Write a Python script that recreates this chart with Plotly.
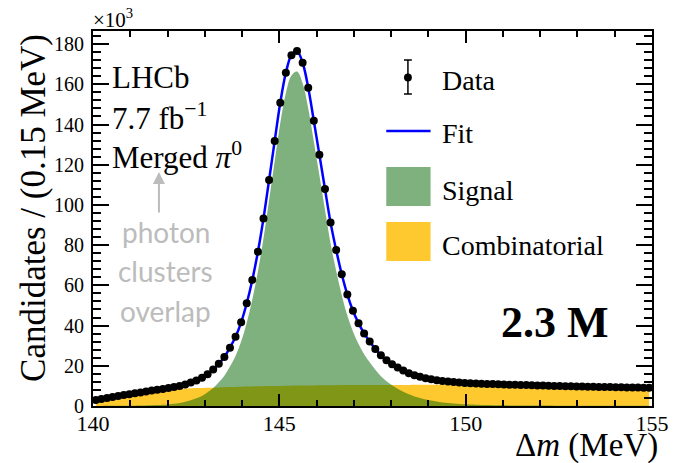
import plotly.graph_objects as go

# ---- data (values in units of 10^3 candidates per 0.15 MeV) ----
bin_low = 140.0
bin_width = 0.15
n_bins = 100
dm_centers = [round(bin_low + bin_width * (i + 0.5), 4) for i in range(n_bins)]

data_counts = [
    2.95, 3.46, 3.97, 4.48, 4.95, 5.42, 5.9, 6.33, 6.77, 7.23,
    7.65, 8.05, 8.5, 8.95, 9.45, 10.0, 10.75, 11.7, 12.7, 14.0,
    15.85, 18.1, 21.0, 24.4, 29.0, 34.4, 41.6, 51.1, 62.7, 76.7,
    93.3, 112.4, 131.8, 150.8, 165.7, 174.5, 176.5, 170.7, 158.3, 141.9,
    125.0, 107.9, 91.2, 77.6, 65.5, 55.4, 47.4, 41.2, 36.1, 32.1,
    28.4, 25.2, 22.8, 20.8, 19.1, 17.6, 16.3, 15.3, 14.5, 13.85,
    13.3, 12.85, 12.45, 12.15, 11.9, 11.7, 11.5, 11.35, 11.2, 11.1,
    11.0, 10.9, 10.8, 10.7, 10.62, 10.55, 10.48, 10.4, 10.32, 10.24,
    10.16, 10.08, 10.0, 9.93, 9.86, 9.8, 9.74, 9.68, 9.62, 9.56,
    9.5, 9.45, 9.4, 9.35, 9.3, 9.25, 9.2, 9.15, 9.1, 9.05,
]

signal = [
    0.05, 0.06, 0.07, 0.08, 0.1, 0.12, 0.15, 0.18, 0.22, 0.28,
    0.35, 0.45, 0.6, 0.8, 1.1, 1.5, 2.1, 2.9, 3.8, 5.0,
    6.8, 9.0, 11.8, 15.1, 19.6, 24.9, 32.05, 41.45, 53.0, 66.9,
    83.45, 102.5, 121.85, 140.8, 155.65, 164.4, 166.35, 160.5, 148.1, 131.65,
    114.7, 97.6, 80.85, 67.25, 55.1, 45.0, 37.0, 30.8, 25.7, 21.7,
    18.0, 14.8, 12.35, 10.35, 8.6, 7.1, 5.8, 4.75, 3.95, 3.25,
    2.7, 2.25, 1.8, 1.5, 1.25, 1.05, 0.85, 0.7, 0.6, 0.5,
    0.45, 0.4, 0.35, 0.32, 0.3, 0.28, 0.26, 0.24, 0.22, 0.21,
    0.2, 0.19, 0.18, 0.17, 0.16, 0.15, 0.14, 0.13, 0.12, 0.11,
    0.1, 0.1, 0.1, 0.09, 0.09, 0.08, 0.08, 0.07, 0.07, 0.07,
]

combinatorial = [
    2.9, 3.4, 3.9, 4.4, 4.85, 5.3, 5.75, 6.15, 6.55, 6.95,
    7.3, 7.6, 7.9, 8.15, 8.35, 8.5, 8.65, 8.8, 8.9, 9.0,
    9.05, 9.1, 9.2, 9.3, 9.4, 9.5, 9.55, 9.65, 9.7, 9.8,
    9.85, 9.9, 9.95, 10.0, 10.05, 10.1, 10.15, 10.2, 10.2, 10.25,
    10.3, 10.3, 10.35, 10.35, 10.4, 10.4, 10.4, 10.4, 10.4, 10.4,
    10.4, 10.4, 10.45, 10.45, 10.5, 10.5, 10.5, 10.55, 10.55, 10.6,
    10.6, 10.6, 10.65, 10.65, 10.65, 10.65, 10.65, 10.65, 10.6, 10.6,
    10.55, 10.5, 10.45, 10.38, 10.32, 10.27, 10.22, 10.16, 10.1, 10.03,
    9.96, 9.89, 9.82, 9.76, 9.7, 9.65, 9.6, 9.55, 9.5, 9.45,
    9.4, 9.35, 9.3, 9.26, 9.21, 9.17, 9.12, 9.08, 9.03, 8.98,
]

fit_total = [s + c for s, c in zip(signal, combinatorial)]

x_tickvals = [140, 145, 150, 155]
y_tickvals = [0, 20, 40, 60, 80, 100, 120, 140, 160, 180]

SERIF = "Liberation Serif"
COMB_COLOR = "rgb(254,200,47)"
SIG_COLOR = "rgba(0,100,0,0.5)"
FIT_COLOR = "rgb(0,0,255)"

fig = go.Figure()

fig.add_trace(go.Scatter(
    x=dm_centers, y=combinatorial, mode="lines", fill="tozeroy",
    line=dict(width=0, shape="spline", smoothing=1.0),
    fillcolor=COMB_COLOR, hoverinfo="skip", name="Combinatorial"))
fig.add_trace(go.Scatter(
    x=dm_centers, y=signal, mode="lines", fill="tozeroy",
    line=dict(width=0, shape="spline", smoothing=1.0),
    fillcolor=SIG_COLOR, hoverinfo="skip", name="Signal"))
fig.add_trace(go.Scatter(
    x=dm_centers, y=fit_total, mode="lines",
    line=dict(color=FIT_COLOR, width=2.5, shape="spline", smoothing=1.0),
    name="Fit"))
fig.add_trace(go.Scatter(
    x=dm_centers, y=data_counts, mode="markers",
    marker=dict(color="black", size=8), name="Data"))

# plot area in pixels
L, R, T, B = 93, 661, 31, 406
W, H = R - L, B - T


def px(xp):
    return (xp - L) / W


def py(yp):
    return (B - yp) / H


shapes = []
# legend glyphs
shapes.append(dict(type="line", xref="paper", yref="paper",
                   x0=px(413), x1=px(413), y0=py(60), y1=py(94),
                   line=dict(color="black", width=1.5)))
for yy in (60, 94):
    shapes.append(dict(type="line", xref="paper", yref="paper",
                       x0=px(409), x1=px(417), y0=py(yy), y1=py(yy),
                       line=dict(color="black", width=1.5)))
shapes.append(dict(type="circle", xref="paper", yref="paper",
                   x0=px(409), x1=px(417), y0=py(73.5), y1=py(81.5),
                   fillcolor="black", line=dict(color="black", width=0)))
shapes.append(dict(type="line", xref="paper", yref="paper",
                   x0=px(391), x1=px(436), y0=py(131), y1=py(131),
                   line=dict(color=FIT_COLOR, width=2.5)))
shapes.append(dict(type="rect", xref="paper", yref="paper",
                   x0=px(391), x1=px(436), y0=py(206), y1=py(167),
                   fillcolor="rgb(127,177,127)", line=dict(width=0)))
shapes.append(dict(type="rect", xref="paper", yref="paper",
                   x0=px(391), x1=px(436), y0=py(261), y1=py(222),
                   fillcolor=COMB_COLOR, line=dict(width=0)))

annotations = []


def add_text(text, xp, yp, size, xanchor="left", color="black", family=SERIF, angle=0):
    annotations.append(dict(text=text, xref="paper", yref="paper",
                            x=px(xp), y=py(yp), xanchor=xanchor, yanchor="middle",
                            showarrow=False, textangle=angle,
                            font=dict(family=family, size=size, color=color)))


add_text("Data", 446, 80, 28)
add_text("Fit", 446, 133, 28)
add_text("Signal", 446, 190, 28)
add_text("Combinatorial", 446, 245, 28)

add_text("LHCb", 110, 77, 31)
add_text("7.7 fb<sup>−1</sup>", 110, 116, 31)
add_text("Merged <i>π</i><sup>0</sup>", 110, 155, 31)

add_text("<b>2.3 M</b>", 562, 322, 44, xanchor="center")

GRAY = "rgb(188,188,188)"
add_text("photon", 167, 232, 28, xanchor="center", color=GRAY, family="Lato")
add_text("clusters", 167, 271, 28, xanchor="center", color=GRAY, family="Lato")
add_text("overlap", 167, 311, 28, xanchor="center", color=GRAY, family="Lato")

annotations.append(dict(x=px(160), y=py(172), ax=0, ay=42,
                        xref="paper", yref="paper", axref="pixel", ayref="pixel",
                        showarrow=True, arrowhead=2, arrowsize=1.2, arrowwidth=2,
                        arrowcolor=GRAY, text=""))

add_text("×10<sup>3</sup>", 91, 18, 21)
add_text("Candidates / (0.15 MeV)", 32, 208, 35, xanchor="center", angle=-90)
add_text("Δ<i>m</i> (MeV)", 669, 445, 33, xanchor="right")

fig.update_layout(
    width=681, height=463,
    margin=dict(l=L, r=681 - R, t=T, b=463 - B),
    paper_bgcolor="white", plot_bgcolor="white",
    showlegend=False,
    shapes=shapes, annotations=annotations,
    font=dict(family=SERIF, color="black"),
)
fig.update_xaxes(
    range=[140, 155], tickvals=x_tickvals, ticks="inside", ticklen=12, tickwidth=1.5,
    tickcolor="black", showline=True, linecolor="black", linewidth=2, mirror="allticks",
    showgrid=False, zeroline=False, tickfont=dict(family=SERIF, size=22),
    ticklabelstandoff=-3,
    minor=dict(dtick=1, ticks="inside", ticklen=6, tickwidth=1.5, tickcolor="black", showgrid=False),
)
fig.update_yaxes(
    range=[0, 186.5], tickvals=y_tickvals, ticks="inside", ticklen=16, tickwidth=1.5,
    tickcolor="black", showline=True, linecolor="black", linewidth=2, mirror="allticks",
    showgrid=False, zeroline=False, tickfont=dict(family=SERIF, size=20),
    ticklabelstandoff=3,
    minor=dict(dtick=4, ticks="inside", ticklen=8, tickwidth=1.5, tickcolor="black", showgrid=False),
)

fig.write_html("out.html")
